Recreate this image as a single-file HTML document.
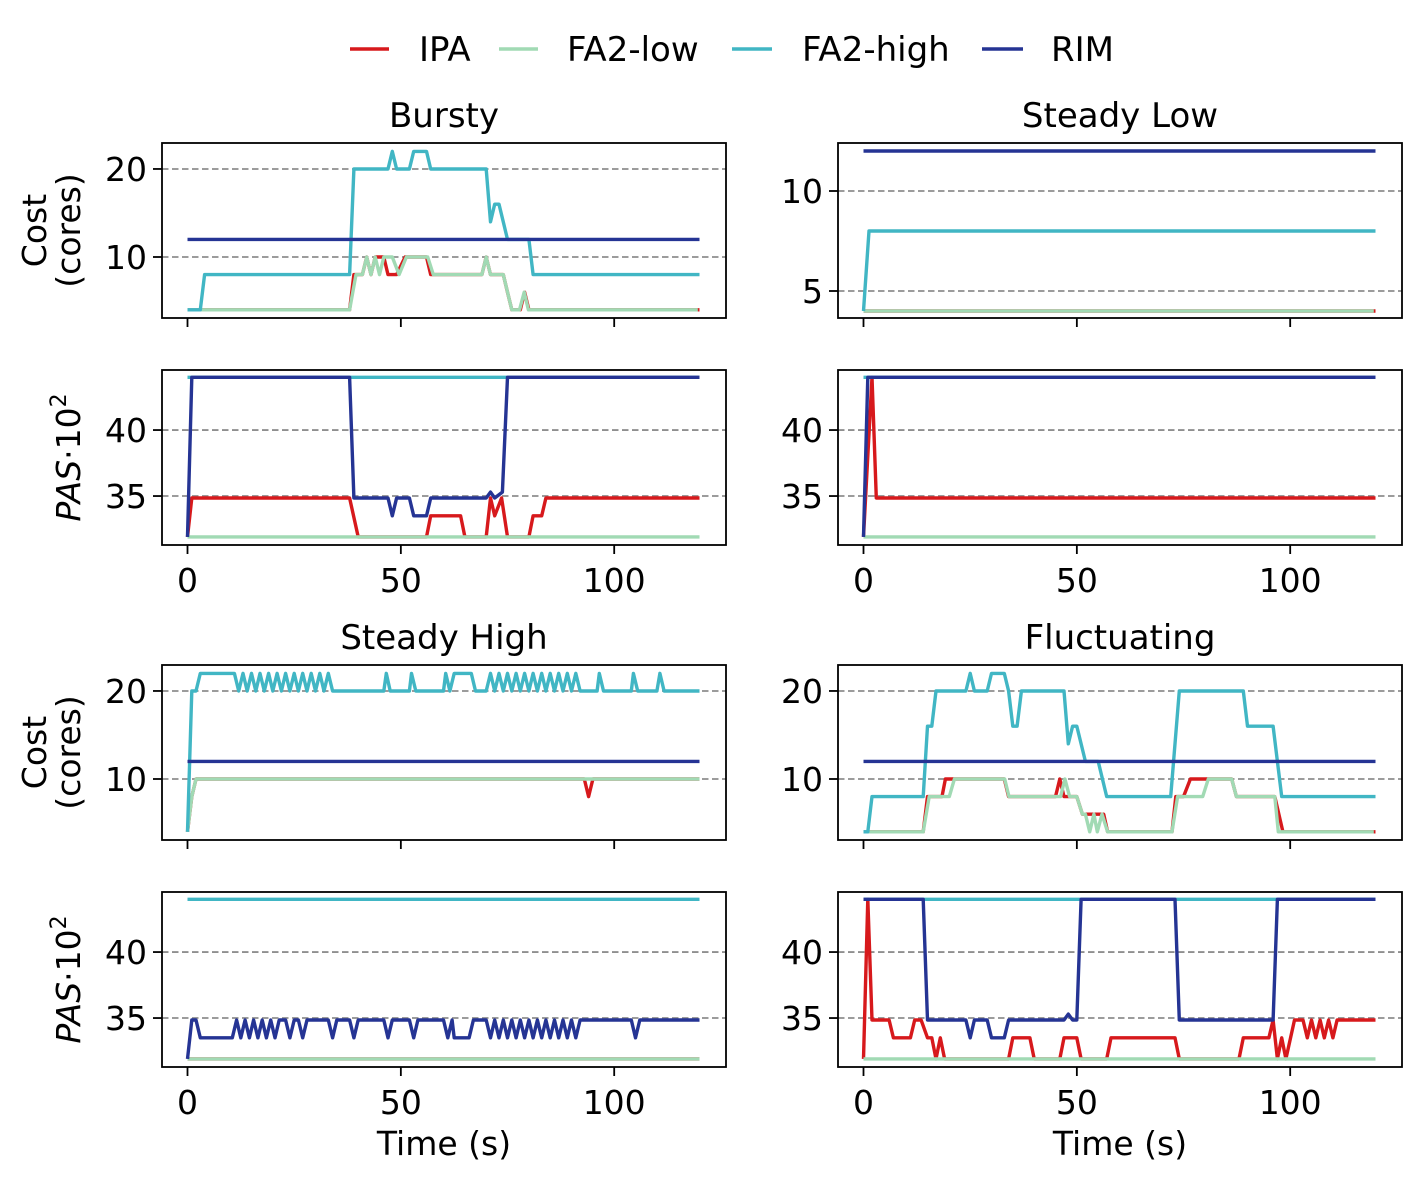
<!DOCTYPE html>
<html><head><meta charset="utf-8"><style>
html,body{margin:0;padding:0;background:#fff;}
svg{display:block;font-family:"DejaVu Sans","Liberation Sans",sans-serif;}
</style></head><body>
<svg id="fig" width="1423" height="1183" viewBox="0 0 1423 1183" xmlns="http://www.w3.org/2000/svg">
<g font-size="34">
  <g><line x1="350" y1="49" x2="389" y2="49" stroke="#d7191c" stroke-width="3.4"/><text x="419" y="61">IPA</text></g>
  <g><line x1="499" y1="49" x2="538" y2="49" stroke="#a1dab4" stroke-width="3.4"/><text x="567" y="61">FA2-low</text></g>
  <g><line x1="732" y1="49" x2="772" y2="49" stroke="#41b6c4" stroke-width="3.4"/><text x="802" y="61">FA2-high</text></g>
  <g><line x1="982" y1="49" x2="1023" y2="49" stroke="#253494" stroke-width="3.4"/><text x="1051" y="61">RIM</text></g>
</g>
</svg>
<script>
// ---------- data (time in s, value) ----------
// Bursty cost
const burstyCostIpaT=[0,38,39,41,42,43,44,46,47,49,51,56,57,69,70,71,74,75,76,78,79,80,120];
const burstyCostIpaV=[4,4,8,8,10,8,10,10,8,8,10,10,8,8,10,8,8,6,4,4,6,4,4];
const burstyCostLowT=[0,38,39.5,41,42,43,44,45,46,48,49.6,51.3,56.3,57.6,69,70,71,74,76,77.8,78.9,79.9,119.6];
const burstyCostLowV=[4,4,8,8,10,8,10,8,10,10,8,10,10,8,8,10,8,8,4,4,6,4,4];
const burstyCostHighT=[0,3,4,38,39,47,48,49,52,53,56,57,70,71,72,73,75,80,81,120];
const burstyCostHighV=[4,4,8,8,20,20,22,20,20,22,22,20,20,14,16,16,12,12,8,8];
const burstyCostRimT=[0,120];
const burstyCostRimV=[12,12];
// Bursty PAS
const burstyPasIpaT=[0,1,38,40,56,57,64,65,70,71,72,73.6,75,80,81,83,84,120];
const burstyPasIpaV=[31.9,34.85,34.85,31.9,31.9,33.5,33.5,31.9,31.9,34.85,33.5,34.85,31.9,31.9,33.5,33.5,34.85,34.85];
const burstyPasLowT=[0,120];
const burstyPasLowV=[31.9,31.9];
const burstyPasHighT=[0,120];
const burstyPasHighV=[44,44];
const burstyPasRimT=[0,1,38,39,47,48,49,52,53,56,57,70,71,72,73.8,75,120];
const burstyPasRimV=[31.9,44,44,34.85,34.85,33.5,34.85,34.85,33.5,33.5,34.85,34.85,35.3,34.85,35.3,44,44];
// Steady Low cost
const lowCostIpaT=[0,120];
const lowCostIpaV=[4,4];
const lowCostLowT=[0,119.6];
const lowCostLowV=[4,4];
const lowCostHighT=[0,1.3,120];
const lowCostHighV=[4,8,8];
const lowCostRimT=[0,120];
const lowCostRimV=[12,12];
// Steady Low PAS
const lowPasIpaT=[0,2,3,120];
const lowPasIpaV=[31.9,44,34.85,34.85];
const lowPasLowT=[0,120];
const lowPasLowV=[31.9,31.9];
const lowPasHighT=[0,120];
const lowPasHighV=[44,44];
const lowPasRimT=[0,1,120];
const lowPasRimV=[31.9,44,44];
// Steady High cost
const highCostIpaT=[0,1,2,93,94,95,120];
const highCostIpaV=[4,8,10,10,8,10,10];
const highCostLowT=[0,1,2,120];
const highCostLowV=[4,8,10,10];
const highCostHighT=[0,1,2,3,11,12,13,14,15,16,17,18,19,20,21,22,23,24,25,26,27,28,29,30,31,32,33,34,46,46.6,47.5,52,52.5,53.5,60,60.5,61.5,62.5,66.5,67.5,70,71,72,73,74,75,76,77,78,79,80,81,82,83,84,85,86,87,88,89,90,91,92,96,96.5,97.5,104,104.5,105.5,110,110.7,111.7,120];
const highCostHighV=[4,20,20,22,22,20,22,20,22,20,22,20,22,20,22,20,22,20,22,20,22,20,22,20,22,20,22,20,20,22,20,20,22,20,20,22,20,22,22,20,20,22,20,22,20,22,20,22,20,22,20,22,20,22,20,22,20,22,20,22,20,22,20,20,22,20,20,22,20,20,22,20,20];
const highCostRimT=[0,120];
const highCostRimV=[12,12];
// Steady High PAS
const highPasIpaT=[0,120];
const highPasIpaV=[31.9,31.9];
const highPasLowT=[0,120];
const highPasLowV=[31.9,31.9];
const highPasHighT=[0,120];
const highPasHighV=[44,44];
const highPasRimT=[0,1,2,3,10.5,11.5,12.5,13.5,14.5,15.5,16.5,17.5,18.5,19.5,20.5,21.5,23,24,25,26,27,28,33,34,35,38,39,40,46,47,48,52,53,54,60,61,62,62.5,66,67,70,71,72,73,74,75,76,77,78,79,80,81,82,83,84,85,86,87,88,89,90,91,92,104,105,106,120];
const highPasRimV=[31.9,34.85,34.85,33.5,33.5,34.85,33.5,34.85,33.5,34.85,33.5,34.85,33.5,34.85,33.5,34.85,34.85,33.5,34.85,34.85,33.5,34.85,34.85,33.5,34.85,34.85,33.5,34.85,34.85,33.5,34.85,34.85,33.5,34.85,34.85,33.5,34.85,33.5,33.5,34.85,34.85,33.5,34.85,33.5,34.85,33.5,34.85,33.5,34.85,33.5,34.85,33.5,34.85,33.5,34.85,33.5,34.85,33.5,34.85,33.5,34.85,33.5,34.85,34.85,33.5,34.85,34.85];
// Fluctuating cost
const flucCostIpaT=[0,14,15,18.4,19.2,33,34,45,46,47,50,51.3,56.3,57.2,72.3,73.2,75,76.6,79.5,86.3,87.4,96.4,98.3,120];
const flucCostIpaV=[4,4,8,8,10,10,8,8,10,8,8,6,6,4,4,8,8,10,10,10,8,8,4,4];
const flucCostLowT=[0,14,15.4,20.1,21.3,33.1,34.1,46.2,47.2,48.3,50,51.3,52,53,54,54.8,55.9,57.2,72.3,73.6,79.5,80.8,86.3,87.4,96.4,97.2,119.6];
const flucCostLowV=[4,4,8,8,10,10,8,8,10,8,8,6,6,4,6,4,6,4,4,8,8,10,10,8,8,4,4];
const flucCostHighT=[0,1,2,14,15,16,17,24,25,26,29,30,33,34,35,36,37,47,48,49,50,52,55,57,72,74,89,90,96,98,120];
const flucCostHighV=[4,4,8,8,16,16,20,20,22,20,20,22,22,20,16,16,20,20,14,16,16,12,12,8,8,20,20,16,16,8,8];
const flucCostRimT=[0,120];
const flucCostRimV=[12,12];
// Fluctuating PAS
const flucPasIpaT=[0,1,2,6,7,11,12,13.5,15,16,17,18,19,34,35,39,40,46,47,50,51,57,58,73,74,88,89,95,96,97,98,99,101,103,104,105,106,107,108,109,110,111,112,120];
const flucPasIpaV=[31.9,44,34.85,34.85,33.5,33.5,34.85,34.85,33.5,33.5,31.9,33.5,31.9,31.9,33.5,33.5,31.9,31.9,33.5,33.5,31.9,31.9,33.5,33.5,31.9,31.9,33.5,33.5,34.85,31.9,33.5,31.9,34.85,34.85,33.5,34.85,33.5,34.85,33.5,34.85,33.5,34.85,34.85,34.85];
const flucPasLowT=[0,120];
const flucPasLowV=[31.9,31.9];
const flucPasHighT=[0,120];
const flucPasHighV=[44,44];
const flucPasRimT=[0,14,15,24,25,26,29,30,33,34,47,48,49,50,51,73,74,96,97,120];
const flucPasRimV=[44,44,34.85,34.85,33.5,34.85,34.85,33.5,33.5,34.85,34.85,35.3,34.85,34.85,44,44,34.85,34.85,44,44];

const xTicks=[0,50,100];
const costTicksA=[10,20];
const costTicksB=[5,10];
const pasTicks=[35,40];

// ---------- layout ----------
const NS='http://www.w3.org/2000/svg';
const svg=document.getElementById('fig');
const colors={ipa:'#d7191c',low:'#a1dab4',high:'#41b6c4',rim:'#253494'};
function mk(tag,attrs,parent){const e=document.createElementNS(NS,tag);for(const k in attrs)e.setAttribute(k,attrs[k]);(parent||svg).appendChild(e);return e;}

const panels=[
 {name:'bursty-cost',x0:162,x1:726,y0:143,y1:318,ymin:3.07,ymax:22.95,ticks:costTicksA,title:'Bursty',lab:'cost',xl:false,
  s:[[burstyCostIpaT,burstyCostIpaV],[burstyCostLowT,burstyCostLowV],[burstyCostHighT,burstyCostHighV],[burstyCostRimT,burstyCostRimV]]},
 {name:'bursty-pas',x0:162,x1:726,y0:370,y1:545,ymin:31.29,ymax:44.55,ticks:pasTicks,lab:'pas',xl:true,
  s:[[burstyPasIpaT,burstyPasIpaV],[burstyPasLowT,burstyPasLowV],[burstyPasHighT,burstyPasHighV],[burstyPasRimT,burstyPasRimV]]},
 {name:'steady-low-cost',x0:838,x1:1402,y0:143,y1:318,ymin:3.65,ymax:12.4,ticks:costTicksB,title:'Steady Low',xl:false,
  s:[[lowCostIpaT,lowCostIpaV],[lowCostLowT,lowCostLowV],[lowCostHighT,lowCostHighV],[lowCostRimT,lowCostRimV]]},
 {name:'steady-low-pas',x0:838,x1:1402,y0:370,y1:545,ymin:31.29,ymax:44.55,ticks:pasTicks,xl:true,
  s:[[lowPasIpaT,lowPasIpaV],[lowPasLowT,lowPasLowV],[lowPasHighT,lowPasHighV],[lowPasRimT,lowPasRimV]]},
 {name:'steady-high-cost',x0:162,x1:726,y0:665,y1:840,ymin:3.07,ymax:22.95,ticks:costTicksA,title:'Steady High',lab:'cost',xl:false,
  s:[[highCostIpaT,highCostIpaV],[highCostLowT,highCostLowV],[highCostHighT,highCostHighV],[highCostRimT,highCostRimV]]},
 {name:'steady-high-pas',x0:162,x1:726,y0:892,y1:1067,ymin:31.29,ymax:44.55,ticks:pasTicks,lab:'pas',xl:true,xt:true,
  s:[[highPasIpaT,highPasIpaV],[highPasLowT,highPasLowV],[highPasHighT,highPasHighV],[highPasRimT,highPasRimV]]},
 {name:'fluctuating-cost',x0:838,x1:1402,y0:665,y1:840,ymin:3.07,ymax:22.95,ticks:costTicksA,title:'Fluctuating',xl:false,
  s:[[flucCostIpaT,flucCostIpaV],[flucCostLowT,flucCostLowV],[flucCostHighT,flucCostHighV],[flucCostRimT,flucCostRimV]]},
 {name:'fluctuating-pas',x0:838,x1:1402,y0:892,y1:1067,ymin:31.29,ymax:44.55,ticks:pasTicks,xl:true,xt:true,
  s:[[flucPasIpaT,flucPasIpaV],[flucPasLowT,flucPasLowV],[flucPasHighT,flucPasHighV],[flucPasRimT,flucPasRimV]]}
];
const keys=['ipa','low','high','rim'];

panels.forEach(p=>{
  const g=mk('g',{});
  
  
  const xOrigin=p.x0+25.5, xScale=4.267;
  const X=t=>xOrigin+t*xScale;
  const Y=v=>p.y1-(v-p.ymin)/(p.ymax-p.ymin)*(p.y1-p.y0);
  // grid
  p.ticks.forEach(v=>{
    const l=mk('line',{x1:p.x0,x2:p.x1,y1:Y(v),y2:Y(v),stroke:'#8f8f8f','stroke-width':1.8,'stroke-dasharray':'6.5,3.5'},g);
    
    
    const tk=mk('line',{x1:p.x0-9,x2:p.x0,y1:Y(v),y2:Y(v),stroke:'#000','stroke-width':1.8},g);
    
    
    const tx=mk('text',{x:p.x0-15,y:Y(v)+12,'text-anchor':'end','font-size':33},g);
    tx.textContent=v;
    
    
  });
  // clip
  const cid='c'+p.name;
  const cp=mk('clipPath',{id:cid},g);
  mk('rect',{x:p.x0,y:p.y0,width:p.x1-p.x0,height:p.y1-p.y0},cp);
  const sg=mk('g',{'clip-path':'url(#'+cid+')'},g);
  p.s.forEach((sr,i)=>{
    const [T,V]=sr;
    const d=T.map((t,j)=>(j?'L':'M')+X(t).toFixed(1)+','+Y(V[j]).toFixed(1)).join(' ');
    const path=mk('path',{d:d,fill:'none',stroke:colors[keys[i]],'stroke-width':3.4,'stroke-linejoin':'round'},sg);
    
    
  });
  // frame
  const fr=mk('rect',{x:p.x0,y:p.y0,width:p.x1-p.x0,height:p.y1-p.y0,fill:'none',stroke:'#000','stroke-width':1.8},g);
  
  
  xTicks.forEach(t=>{
    const tk=mk('line',{x1:X(t),x2:X(t),y1:p.y1,y2:p.y1+9,stroke:'#000','stroke-width':1.8},g);
    
    
    if(p.xl){
      const tx=mk('text',{x:X(t),y:p.y1+47,'text-anchor':'middle','font-size':33},g);
      tx.textContent=t;
      
      
    }
  });
  if(p.title){
    const tt=mk('text',{x:(p.x0+p.x1)/2,y:p.y0-16,'text-anchor':'middle','font-size':34},g);
    tt.textContent=p.title;
    
    
  }
  if(p.xt){
    const xt=mk('text',{x:(p.x0+p.x1)/2,y:1155,'text-anchor':'middle','font-size':33},g);
    xt.textContent='Time (s)';
    
    
  }
  const cy=(p.y0+p.y1)/2;
  if(p.lab==='cost'){
    const a=mk('text',{transform:'translate(46,'+cy+') rotate(-90)','text-anchor':'middle','font-size':33},g);
    a.textContent='Cost';
    
    
    const b=mk('text',{transform:'translate(80,'+cy+') rotate(-90)','text-anchor':'middle','font-size':33},g);
    b.textContent='(cores)';
    
    
  } else if(p.lab==='pas'){
    const a=mk('text',{transform:'translate(80,'+cy+') rotate(-90)','text-anchor':'middle','font-size':33},g);
    a.innerHTML='<tspan font-style="italic">PAS</tspan>·10<tspan font-size="22" dy="-14">2</tspan>';
    
    
  }
});
</script>
</body></html>
